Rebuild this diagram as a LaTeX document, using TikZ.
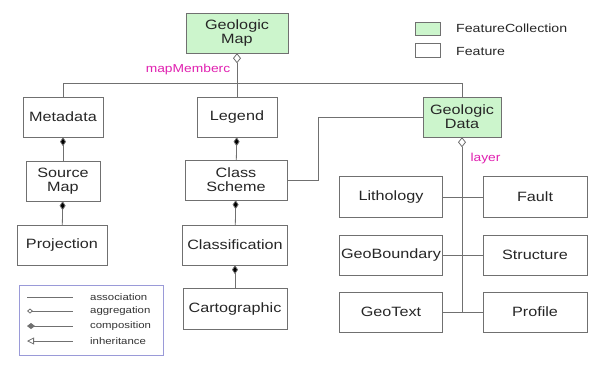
\documentclass[tikz,border=0pt]{standalone}
\usepackage{fontspec}
\setmainfont{Liberation Sans}[FakeStretch=1.2]
\usetikzlibrary{arrows.meta}
\definecolor{fcgreen}{HTML}{CCF5CC}
\definecolor{linegray}{HTML}{707070}
\definecolor{roleclr}{HTML}{E020B0}
\definecolor{keyblue}{HTML}{9A9AD8}

\begin{document}
\begin{tikzpicture}[x=1pt,y=-1pt,
		feature/.style={draw=linegray,fill=white,text=black!85,font=\fontsize{13.5}{14}\selectfont,minimum height=40pt,inner sep=0pt,align=center},
		fcoll/.style={feature,fill=fcgreen},
		conn/.style={draw=linegray,line width=0.8pt},
		aggr/.style={conn,{Diamond[open,fill=white,width=8pt,length=10pt]}-},
		comp/.style={conn,{Diamond[width=6pt,length=9pt]}-},
		role/.style={text=roleclr,font=\fontsize{11.5}{12}\selectfont},
		keytext/.style={anchor=west,text=black!80,font=\fontsize{9.5}{10}\selectfont,inner sep=0pt}]
	\useasboundingbox (0,0) rectangle (596,365);

	% classes
	\node[fcoll,minimum width=102pt] (gmap) at (237,33) {Geologic\\Map};
	\node[feature,minimum width=80pt] (metadata) at (63,117) {Metadata};
	\node[feature,minimum width=80pt] (legend) at (237,117) {Legend};
	\node[fcoll,minimum width=78pt] (gdata) at (462,117) {Geologic\\Data};
	\node[feature,minimum width=74pt] (srcmap) at (63,181) {Source\\Map};
	\node[feature,minimum width=90pt] (proj) at (62,245) {Projection};
	\node[feature,minimum width=102pt] (clsscheme) at (236,180) {Class\\Scheme};
	\node[feature,minimum width=105pt] (classif) at (235,245) {Classification};
	\node[feature,minimum width=104pt,minimum height=41pt] (carto) at (235,309) {Cartographic};
	\node[feature,minimum width=103pt,minimum height=41pt] (litho) at (391,197) {Lithology};
	\node[feature,minimum width=104pt,minimum height=41pt] (fault) at (535,197) {Fault};
	\node[feature,minimum width=103pt] (geobound) at (391,255) {GeoBoundary};
	\node[feature,minimum width=104pt] (struct) at (535,255) {Structure};
	\node[feature,minimum width=103pt] (geotext) at (391,312) {GeoText};
	\node[feature,minimum width=104pt] (profile) at (535,312) {Profile};

	% map members
	\coordinate (bus) at (237,83);
	\draw[aggr] (gmap) -- (bus);
	\draw[conn] (bus) -| (metadata);
	\draw[conn] (bus) -- (legend);
	\draw[conn] (bus) -| (gdata);
	\node[role] (members) at (188,70) {mapMemberc};

	% compositions
	\path[comp] (metadata) edge (srcmap) (srcmap) edge (proj)
		(legend) edge (clsscheme) (clsscheme) edge (classif) (classif) edge (carto);

	% association to the class scheme
	\coordinate (bend) at (318,117);
	\draw[conn] (gdata) -- (bend) |- (clsscheme);

	% layers
	\coordinate (trunk) at (462,312);
	\draw[aggr] (gdata) -- (trunk);
	\path[conn] (litho) edge (fault) (geobound) edge (struct) (geotext) edge (profile);
	\node[role,anchor=west] (layer) at (467,159) {layer};

	% legend
	\node[fcoll,minimum width=25pt,minimum height=13pt] (kfc) at (427.5,28.5) {};
	\node[feature,minimum width=25pt,minimum height=14pt] (kf) at (427.5,50) {};
	\node[anchor=west,text=black!85,font=\fontsize{11.8}{12}\selectfont,inner sep=0pt] (kfctext) at (456,28) {FeatureCollection};
	\node[anchor=west,text=black!85,font=\fontsize{11.8}{12}\selectfont,inner sep=0pt] (kftext) at (456,51) {Feature};

	\node[draw=keyblue,line width=0.8pt,minimum width=144pt,minimum height=70pt,inner sep=0pt] (key) at (91,320) {};
	\node[keytext] (kassoc) at (90,297) {association};
	\node[keytext] (kaggr) at (90,311) {aggregation};
	\node[keytext] (kcomp) at (90,326) {composition};
	\node[keytext] (kinher) at (90,341) {inheritance};
	\coordinate (ka) at (27,297);
	\coordinate (kb) at (27,311);
	\coordinate (kc) at (27,326);
	\coordinate (kd) at (27,341);
	\draw[conn] (ka) -- ++(46,0);
	\draw[conn,{Diamond[open,width=5pt,length=6pt]}-] (kb) -- ++(46,0);
	\draw[conn,{Diamond[width=6pt,length=8pt]}-] (kc) -- ++(46,0);
	\draw[conn,{Triangle[open,width=7pt,length=7pt]}-] (kd) -- ++(46,0);
\end{tikzpicture}
\end{document}
